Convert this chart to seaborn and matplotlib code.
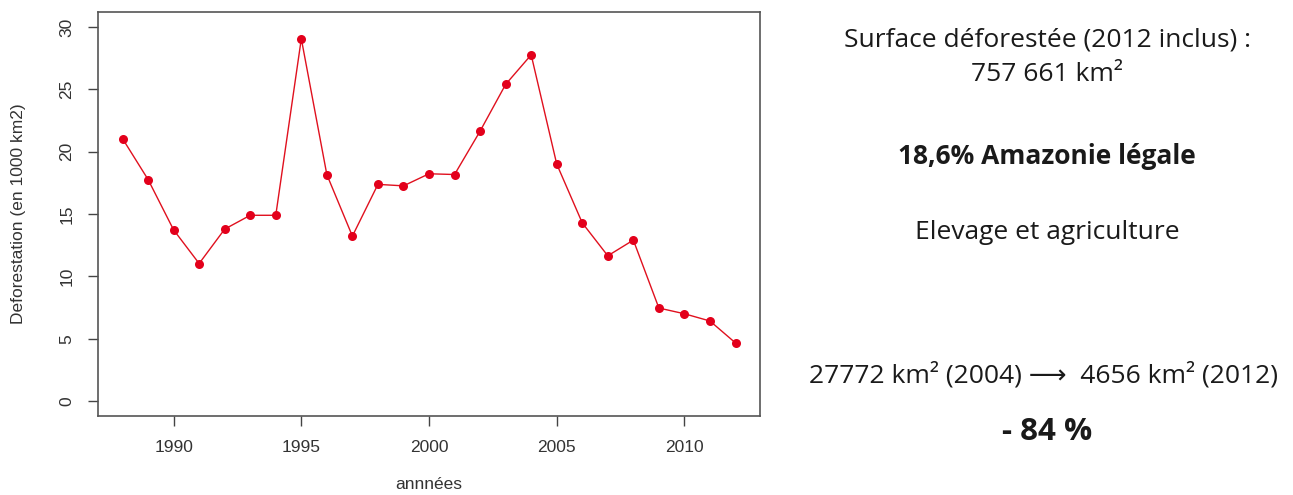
import pandas as pd
import seaborn as sns
import matplotlib.pyplot as plt

# deforestation per year, in 1000 km2
years = list(range(1988, 2013))
deforestation = [21.05, 17.77, 13.73, 11.03, 13.79, 14.90, 14.90, 29.06, 18.16,
                 13.23, 17.38, 17.26, 18.23, 18.17, 21.65, 25.40, 27.77, 19.01,
                 14.29, 11.65, 12.91, 7.46, 7.00, 6.42, 4.66]
x_ticks = [1990, 1995, 2000, 2005, 2010]
y_ticks = [0, 5, 10, 15, 20, 25, 30]

df = pd.DataFrame({'annee': years, 'deforestation': deforestation})

sns.set_style('white')
plt.rcParams['font.family'] = ['Liberation Sans', 'DejaVu Sans']

fig = plt.figure(figsize=(12.93, 4.95), dpi=100)
ax = fig.add_axes([0.0758, 0.1596, 0.512, 0.816])

sns.lineplot(data=df, x='annee', y='deforestation', ax=ax, color='#e0101e',
             linewidth=1.0, marker='o', markersize=6.5, markeredgewidth=0,
             markerfacecolor='#e3001b')

ax.set_xlim(1987.04, 2012.96)
ax.set_ylim(-1.2, 31.2)
ax.set_xticks(x_ticks)
ax.set_yticks(y_ticks)
ax.set_yticklabels([str(v) for v in y_ticks], rotation=90, va='center')
ax.tick_params(axis='both', direction='out', length=7, width=1, color='#444444',
               labelsize=12.5, labelcolor='#333333', pad=10, left=True, bottom=True)
for spine in ax.spines.values():
    spine.set_color('#555555')
    spine.set_linewidth(1.2)

ax.set_xlabel('annnées', fontsize=12.5, color='#333333', labelpad=16)
ax.set_ylabel('Deforestation (en 1000 km2)', fontsize=12.5, color='#333333', labelpad=24)

# text panel on the right
txt = dict(ha='center', va='center', fontsize=19, color='#1a1a1a',
           family=['Open Sans', 'DejaVu Sans'])
fig.text(0.810, 0.920, 'Surface déforestée (2012 inclus) :', **txt)
fig.text(0.810, 0.850, '757 661 km²', **txt)
fig.text(0.810, 0.683, '18,6% Amazonie légale', fontweight='bold', **txt)
fig.text(0.810, 0.530, 'Elevage et agriculture', **txt)
fig.text(0.807, 0.242, '27772 km² (2004) ⟶  4656 km² (2012)', **txt)
txt['fontsize'] = 22.5
fig.text(0.810, 0.127, '- 84 %', fontweight='bold', **txt)

fig.savefig('out.png', dpi=100)
